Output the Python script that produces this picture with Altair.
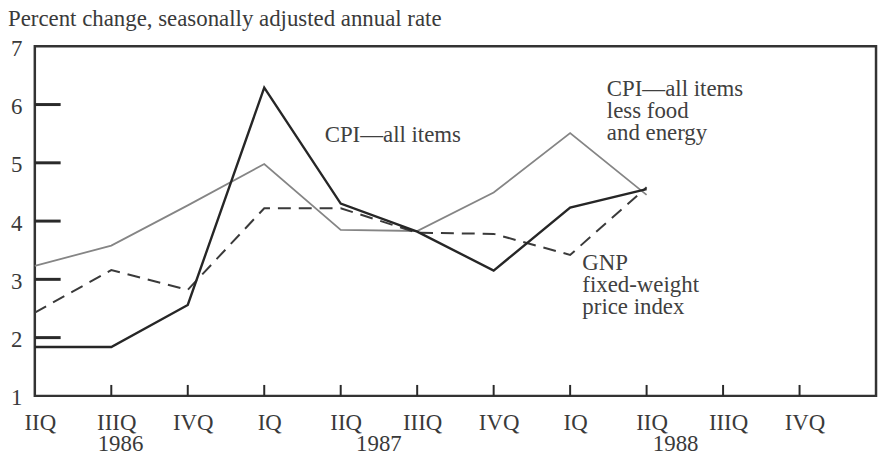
import altair as alt
import pandas as pd

# ---- data ----
quarters = ["IIQ", "IIIQ", "IVQ", "IQ", "IIQ", "IIIQ", "IVQ", "IQ", "IIQ", "IIIQ", "IVQ"]
years = ["1986", "1987", "1988"]
year_pos = [1.12, 4.5, 8.38]          # in quarter units

cpi_all = [1.84, 1.84, 2.56, 6.29, 4.30, 3.82, 3.15, 4.23, 4.55]
cpi_core = [3.23, 3.58, 4.27, 4.98, 3.85, 3.83, 4.49, 5.51, 4.45]
gnp_fw = [2.43, 3.16, 2.82, 4.22, 4.22, 3.80, 3.78, 3.42, 4.58]

y_label_vals = [1, 2, 3, 4, 5, 6, 7]
y_tick_vals = [2, 3, 4, 5, 6]
x_tick_vals = [1, 2, 3, 4, 5, 6, 7, 8, 9, 10]

title_text = "Percent change, seasonally adjusted annual rate"
ann_text = [["CPI\u2014all items"],
            ["CPI\u2014all items", "less food", "and energy"],
            ["GNP", "fixed-weight", "price index"]]
ann_x = [3.79, 7.48, 7.16]
ann_y = [5.36, 6.15, 3.165]

# ---- style ----
W, H = 847, 352
FONT = "Liberation Serif"
FS = 23
TXT = "#3a3a3a"


def series_df(vals):
    return pd.DataFrame({"q": list(range(len(vals))), "v": vals})


x_scale = alt.Scale(domain=[0, 11], nice=False, zero=False)
y_scale = alt.Scale(domain=[1, 7], nice=False, zero=False)

label_expr = "[" + ",".join("'%s'" % q for q in quarters) + "][datum.value]"

x_axis = alt.Axis(values=list(range(len(quarters))), labelExpr=label_expr,
                  ticks=False, domain=False, grid=False,
                  labelFont=FONT, labelFontSize=FS, labelColor=TXT,
                  labelPadding=16, labelOffset=5, labelBaseline="top",
                  labelAlign="center", labelFlush=False, labelOverlap=False,
                  title=None)
y_axis = alt.Axis(values=y_label_vals, ticks=False, domain=False, grid=False,
                  labelFont=FONT, labelFontSize=FS, labelColor=TXT,
                  labelPadding=13, labelBaseline="middle", labelOffset=2,
                  labelFlush=False, labelOverlap=False, format="d", title=None)


def X(field):
    return alt.X(field, scale=x_scale, axis=x_axis)


def Y(field):
    return alt.Y(field, scale=y_scale, axis=y_axis)


core = alt.Chart(series_df(cpi_core)).mark_line(
    color="#858585", strokeWidth=1.8
).encode(x=X("q:Q"), y=Y("v:Q"))

gnp = alt.Chart(series_df(gnp_fw)).mark_line(
    color="#3a3a3a", strokeWidth=2, strokeDash=[13, 8]
).encode(x=X("q:Q"), y=Y("v:Q"))

allitems = alt.Chart(series_df(cpi_all)).mark_line(
    color="#262626", strokeWidth=2.4
).encode(x=X("q:Q"), y=Y("v:Q"))

yticks = alt.Chart(pd.DataFrame({"v": y_tick_vals})).mark_rule(
    color="#2a2a2a", strokeWidth=3
).encode(
    y=Y("v:Q"),
    x=alt.value(0), x2=alt.value(26),
)

xticks = alt.Chart(pd.DataFrame({"q": x_tick_vals})).mark_rule(
    color="#2a2a2a", strokeWidth=2
).encode(
    x=X("q:Q"),
    y=alt.value(H - 11), y2=alt.value(H),
)

year_text = alt.Chart(pd.DataFrame({"q": year_pos, "t": years})).mark_text(
    font=FONT, fontSize=FS, color=TXT, align="center", baseline="alphabetic"
).encode(
    x=X("q:Q"),
    y=alt.value(H + 56),
    text="t:N",
)

ann = alt.Chart(pd.DataFrame({"q": ann_x, "v": ann_y, "t": ann_text})).mark_text(
    font=FONT, fontSize=FS, color="#404040", align="left",
    baseline="alphabetic", lineHeight=22.5
).encode(
    x=X("q:Q"),
    y=Y("v:Q"),
    text="t",
)

title = alt.Chart(pd.DataFrame({"t": [title_text]})).mark_text(
    font=FONT, fontSize=FS, color=TXT, align="left", baseline="alphabetic"
).encode(
    x=alt.value(-27), y=alt.value(-20), text="t:N",
)

chart = alt.layer(
    core, gnp, allitems, yticks, xticks, year_text, ann, title
).properties(
    width=W, height=H,
    padding={"left": 27, "top": 37, "right": 4, "bottom": 61},
    autosize=alt.AutoSizeParams(type="none"),
    background="white",
).configure_view(
    stroke="#333333", strokeWidth=2.5
)

chart.save("out.html", embed_options={"renderer": "svg", "actions": False})
